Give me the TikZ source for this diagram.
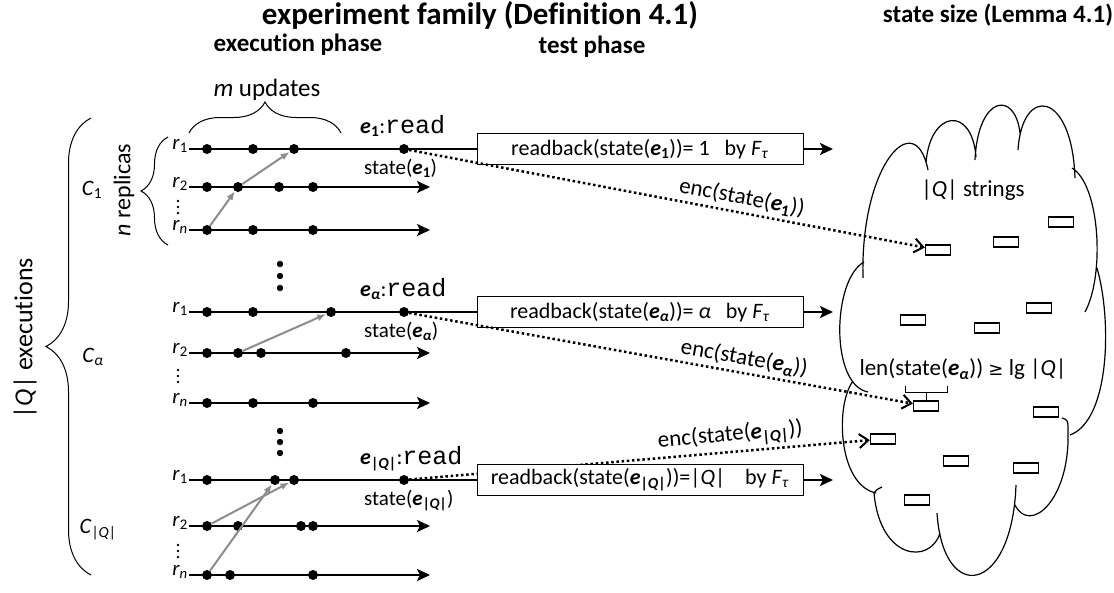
\documentclass[tikz,border=0pt]{standalone}
\usepackage{fontspec}
\setmainfont{Carlito}[Ligatures=NoCommon]
\setmonofont{Liberation Mono}
\newfontfamily\symfont{DejaVu Sans}
\usetikzlibrary{arrows.meta,positioning,decorations.pathreplacing}
\definecolor{msggray}{RGB}{140,140,140}
\newcommand{\fs}[1]{\fontsize{#1}{#1}\selectfont}
\newcommand{\ee}[1]{\textbf{\textit{e}\textsubscript{#1}}}
\newcommand{\rr}[1]{\textit{r}\textsubscript{#1}}
\newcommand{\QQ}{|\textit{Q}|}
\newcommand{\rd}{{\ttfamily\fs{25}read}}
\begin{document}
\begin{tikzpicture}[x=1pt,y=-1pt,
    every node/.style={font=\fs{22}},
    title/.style={font=\fs{25}\bfseries},
    rline/.style={line width=2.4pt},
    tl/.style={line width=2.4pt,-{Stealth[length=13pt,width=12pt,inset=3pt]}},
    upd/.style={circle,fill,inner sep=0pt,minimum size=10pt},
    msg/.style={draw=msggray,line width=2pt,-{Latex[length=9pt,width=7pt]}},
    enc/.style={line width=2.5pt,dash pattern=on 2.5pt off 2.7pt,
        -{Straight Barb[length=9pt,width=14pt,line width=2pt]}},
    fbox/.style={draw,line width=1pt,fill=white,minimum width=326pt,minimum height=31pt,inner sep=1pt},
    str/.style={draw,line width=1.3pt,fill=white,minimum width=25pt,minimum height=10pt,inner sep=0pt},
    rlab/.style={anchor=base east,inner sep=1pt,font=\fs{21}},
    brc/.style={decorate,decoration={brace,amplitude=#1},line width=1pt}
]
\useasboundingbox (0,0) rectangle (1114,592);

% headings
\node[title,font=\fs{31}\bfseries] (hexp) at (480,15) {experiment family (Definition 4.1)};
\node[title] (hsize) at (998,15) {state size (Lemma 4.1)};
\node[title] (hexe) at (298,45) {execution phase};
\node[title] (htest) at (592,47) {test phase};

% left side
\draw[brc=45] (91,575) -- (91,118);
\node[rotate=90,font=\fs{26}] (nexec) at (25,338) {\QQ{} executions};
\node (c1) at (92,190) {\textit{C}\textsubscript{1}};
\node (ca) at (93,357) {\textit{C}\textsubscript{\textit{α}}};
\node (cq) at (98,530) {\textit{C}\textsubscript{\QQ}};
\draw[brc=27] (168,245) -- (168,137);
\node[rotate=90,font=\fs{24}] (nrep) at (124,190) {\textit{n} replicas};
\draw[brc=31] (189,133) -- (341,133);
\node[font=\fs{25}] (mupd) at (267,90) {\textit{m} updates};

% C_1
\node[rlab] (a1) at (189,149) {\rr{1}};
\node[rlab] (a2) at (189,187) {\rr{2}};
\node[rlab] (an) at (189,230) {\rr{\textit{n}}};
\foreach \y in {201,207,213} \fill (178,\y) circle (1.3);
\node[fbox] (box1) at (640,149) {readback(state(\ee{1}))= 1 \ \ by \textit{F}\textsubscript{\textit{τ}}};
\coordinate (a2e) at (430,187);
\coordinate (ane) at (430,230);
\coordinate (o1) at (833,149);
\draw[rline] (a1.base east) -- (box1.west);
\draw[tl] (a2.base east) -- (a2e);
\draw[tl] (an.base east) -- (ane);
\draw[tl] (box1.east) -- (o1);
\foreach \x [count=\i] in {207,253,294,404} \node[upd] (a1d\i) at (\x,149) {};
\foreach \x [count=\i] in {207,238,279,313} \node[upd] (a2d\i) at (\x,187) {};
\foreach \x [count=\i] in {207,253,313} \node[upd] (and\i) at (\x,230) {};
\draw[msg] (and1) -- (a2d2);
\draw[msg] (a2d2) -- (a1d3);
\node[anchor=base west,inner sep=0pt] (read1) at (360,133) {\ee{1}:\rd};
\node[anchor=base west,inner sep=0pt,font=\fs{21}] (st1) at (364,174) {state(\ee{1})};

\foreach \y in {264,276,288} \fill (280,\y) circle (3.2);

% C_alpha
\node[rlab] (b1) at (189,312) {\rr{1}};
\node[rlab] (b2) at (189,353) {\rr{2}};
\node[rlab] (bn) at (189,403) {\rr{\textit{n}}};
\foreach \y in {370,376,382} \fill (178,\y) circle (1.3);
\node[fbox] (box2) at (640,312) {readback(state(\ee{\textit{α}}))= \textit{α} \ \ by \textit{F}\textsubscript{\textit{τ}}};
\coordinate (b2e) at (430,353);
\coordinate (bne) at (430,403);
\coordinate (o2) at (833,312);
\draw[rline] (b1.base east) -- (box2.west);
\draw[tl] (b2.base east) -- (b2e);
\draw[tl] (bn.base east) -- (bne);
\draw[tl] (box2.east) -- (o2);
\foreach \x [count=\i] in {207,253,331,404} \node[upd] (b1d\i) at (\x,312) {};
\foreach \x [count=\i] in {207,238,261,346} \node[upd] (b2d\i) at (\x,353) {};
\foreach \x [count=\i] in {207,253,313} \node[upd] (bnd\i) at (\x,403) {};
\draw[msg] (b2d2) -- (b1d3);
\node[anchor=base west,inner sep=0pt] (read2) at (360,296) {\ee{\textit{α}}:\rd};
\node[anchor=base west,inner sep=0pt,font=\fs{21}] (st2) at (364,337) {state(\ee{\textit{α}})};

\foreach \y in {431,442,453} \fill (280,\y) circle (3.2);

% C_|Q|
\node[rlab] (q1) at (189,480) {\rr{1}};
\node[rlab] (q2) at (189,526) {\rr{2}};
\node[rlab] (qn) at (189,575) {\rr{\textit{n}}};
\foreach \y in {545,551,557} \fill (178,\y) circle (1.3);
\coordinate (q2e) at (430,526);
\coordinate (qne) at (430,575);
\coordinate (o3) at (833,480);
\draw[rline] (q1.base east) -- (477,480);
\draw[tl] (q2.base east) -- (q2e);
\draw[tl] (qn.base east) -- (qne);
\foreach \x [count=\i] in {207,275,294,404} \node[upd] (q1d\i) at (\x,480) {};
\foreach \x [count=\i] in {207,238,301,313} \node[upd] (q2d\i) at (\x,526) {};
\foreach \x [count=\i] in {207,230,313} \node[upd] (qnd\i) at (\x,575) {};
\draw[msg] (q2d1) -- (q1d3);
\draw[msg] (qnd1) -- (q1d2);
\node[anchor=base west,inner sep=0pt] (read3) at (360,464) {\ee{\QQ}:\rd};
\node[anchor=base west,inner sep=0pt,font=\fs{21}] (st3) at (364,505) {state(\ee{\QQ})};

% cloud of strings
\draw[line width=1.2pt]
  (863,278) .. controls (860,165) and (915,105) .. (928,170)
  (926,163) .. controls (930,110) and (972,105) .. (976,157)
  (975,160) .. controls (978,95) and (1015,90) .. (1020,133)
  (1018,150) .. controls (1022,85) and (1072,90) .. (1075,178)
  (1072,168) .. controls (1100,185) and (1105,275) .. (1085,312)
  (1097,268) .. controls (1112,320) and (1110,420) .. (1070,435)
  (1062,418) .. controls (1068,420) .. (1068,432)
  .. controls (1070,500) and (1030,535) .. (1015,505)
  (1016,485) .. controls (1012,595) and (943,605) .. (937,513)
  (940,533) .. controls (930,565) and (880,560) .. (874,493)
  .. controls (876,490) .. (882,487)
  (876,493) .. controls (838,485) and (835,405) .. (853,381)
  (864,262) .. controls (832,280) and (830,385) .. (868,392);
\foreach \x/\y [count=\i] in {938/250,1006/242,1061/222,913/320,987/328,1039/308,
    926/406,1046/412,883/439,956/461,1026/468,917/500}
  \node[str] (s\i) at (\x,\y) {};
\node[font=\fs{23}] (nstr) at (973,190) {\QQ{} strings};
\node[font=\fs{23}] (nlen) at (963,369) {len(state(\ee{\textit{α}})) {\symfont\fs{18}≥} lg \QQ};
\draw[line width=1pt] (905,386) -- (905,392) -- (947,392) -- (947,386);
\draw[line width=1pt] (926,392) -- (s7.north);

% test phase box of C_|Q|
\draw[enc] (q1d4) -- node[sloped,above,pos=0.7,font=\fs{23}] (enc3) {enc(state(\ee{\QQ}))} (s9);
\node[fbox] (box3) at (640,480) {readback(state(\ee{\QQ}))=\QQ{} \ \ \ by \textit{F}\textsubscript{\textit{τ}}};
\draw[tl] (box3.east) -- (o3);
\draw[enc] (a1d4) -- node[sloped,above,pos=0.64,font=\fs{23}] (enc1) {enc(state(\ee{1}))} (s1);
\draw[enc] (b1d4) -- node[sloped,above,pos=0.66,font=\fs{23}] (enc2) {enc(state(\ee{\textit{α}}))} (s7);
\end{tikzpicture}
\end{document}
